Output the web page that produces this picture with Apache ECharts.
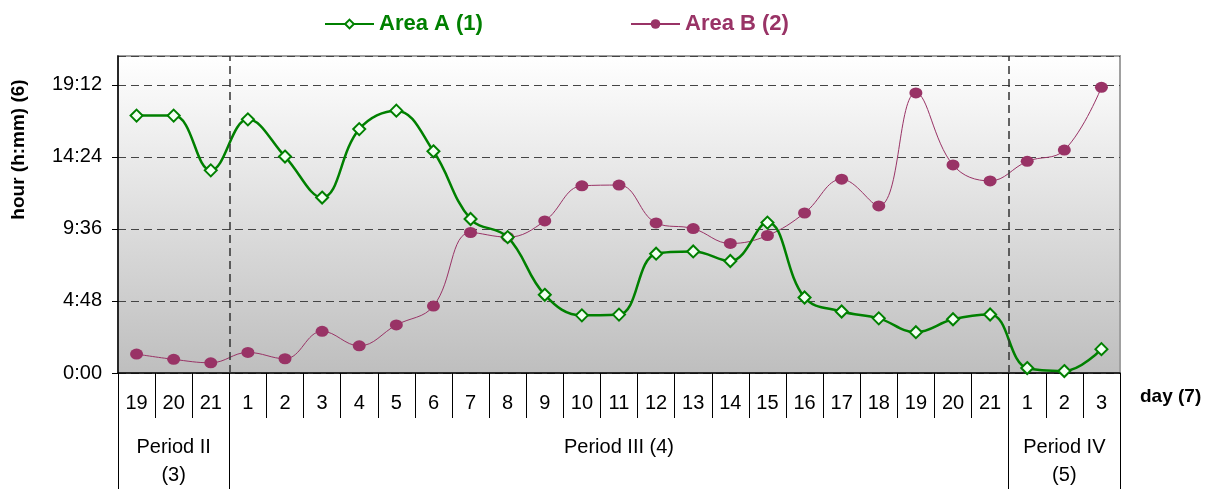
<!DOCTYPE html>
<html>
<head>
<meta charset="utf-8">
<script src="https://cdn.jsdelivr.net/npm/echarts@6/dist/echarts.min.js"></script>
<style>
  html, body { margin: 0; padding: 0; background: #fff; }
  #chart { width: 1216px; height: 489px; }
</style>
</head>
<body>
<div id="chart"></div>
<script>
// day labels along the x axis
var days = ['19', '20', '21', '1', '2', '3', '4', '5', '6', '7', '8', '9', '10',
            '11', '12', '13', '14', '15', '16', '17', '18', '19', '20', '21', '1', '2', '3'];

// second level of the axis: one label in the middle of each period
var periods = ['', 'Period II\n(3)', '', '', '', '', '', '', '', '', '', '', '', 'Period III (4)',
               '', '', '', '', '', '', '', '', '', '', '', 'Period IV\n(5)', ''];
// index of the first day of each period
var periodStarts = [0, 3, 24];

// values in hours (decimal)
var areaA = [17.15, 17.15, 13.5, 16.9, 14.42, 11.69, 16.25, 17.48, 14.77, 10.26, 9.05, 5.21, 3.84,
             3.89, 7.95, 8.1, 7.46, 10.02, 5.03, 4.1, 3.64, 2.72, 3.58, 3.9, 0.33, 0.13, 1.59];
var areaB = [1.26, 0.91, 0.68, 1.37, 0.95, 2.78, 1.81, 3.2, 4.46, 9.36, 9.05, 10.13, 12.47,
             12.52, 10.0, 9.62, 8.63, 9.16, 10.66, 12.91, 11.13, 18.66, 13.86, 12.8, 14.1, 14.85, 19.03];

var font = '"Liberation Sans", Arial, sans-serif';

function hmm(v) {
    var mins = Math.round(v * 60);
    var h = Math.floor(mins / 60);
    var m = mins % 60;
    return h + ':' + (m < 10 ? '0' + m : m);
}

var myChart = echarts.init(document.getElementById('chart'));
var option = {
    animation: false,
    textStyle: { fontFamily: font },
    legend: [
        {
            left: 319, top: 8,
            itemWidth: 49, itemHeight: 11,
            data: [{ name: 'Area A (1)', textStyle: { color: '#008000' } }],
            textStyle: { fontSize: 22, fontWeight: 'bold', fontFamily: font }
        },
        {
            left: 625, top: 8,
            itemWidth: 49, itemHeight: 12,
            data: [{ name: 'Area B (2)', textStyle: { color: '#993366' } }],
            textStyle: { fontSize: 22, fontWeight: 'bold', fontFamily: font }
        }
    ],
    grid: {
        left: 118, right: 96, top: 56, bottom: 114,
        show: true,
        borderColor: '#a0a0a0',
        borderWidth: 2,
        backgroundColor: new echarts.graphic.LinearGradient(0, 0, 0, 1, [
            { offset: 0, color: '#ffffff' },
            { offset: 1, color: '#bebebe' }
        ])
    },
    xAxis: [
        {
            type: 'category',
            data: days,
            position: 'bottom',
            boundaryGap: true,
            axisLine: { lineStyle: { color: '#000', width: 1.5 } },
            axisTick: { show: true, interval: 0, length: 45, lineStyle: { color: '#000' } },
            axisLabel: { interval: 0, fontSize: 20, color: '#000', margin: 20, fontFamily: font },
            splitLine: { show: false },
            name: 'day (7)',
            nameLocation: 'end',
            nameGap: 20,
            nameTextStyle: {
                fontSize: 19, fontWeight: 'bold', color: '#000', fontFamily: font,
                verticalAlign: 'top', padding: [14, 0, 0, 0]
            }
        },
        {
            type: 'category',
            data: periods,
            position: 'bottom',
            boundaryGap: true,
            axisLine: { show: false },
            axisTick: {
                show: true, length: 120, lineStyle: { color: '#000' },
                interval: function (index) { return periodStarts.indexOf(index) >= 0; }
            },
            axisLabel: { interval: 0, fontSize: 20, lineHeight: 28, color: '#000', margin: 60, fontFamily: font },
            splitLine: { show: false }
        },
        {
            // hidden helper axis used to place the period separators on day boundaries
            type: 'value',
            min: 0,
            max: days.length,
            position: 'bottom',
            show: false
        }
    ],
    yAxis: {
        type: 'value',
        min: 0,
        max: 21.12,
        interval: 4.8,
        name: 'hour (h:mm) (6)',
        nameLocation: 'middle',
        nameRotate: 90,
        nameGap: 90,
        nameTextStyle: {
            fontSize: 19, fontWeight: 'bold', color: '#000', fontFamily: font,
            padding: [0, 0, 0, 130]
        },
        axisLine: { show: true, lineStyle: { color: '#000', width: 1.5 } },
        axisTick: { show: true, length: 6, lineStyle: { color: '#000' } },
        axisLabel: { fontSize: 20, color: '#000', margin: 16, showMaxLabel: false, fontFamily: font, formatter: hmm },
        splitLine: { show: true, lineStyle: { type: [8, 5], color: '#444', width: 1 } }
    },
    series: [
        {
            name: 'Area A (1)',
            type: 'line',
            data: areaA,
            smooth: 0.4,
            symbol: 'diamond',
            symbolSize: 12,
            lineStyle: { color: '#008000', width: 2.5 },
            itemStyle: { color: '#f2fff2', borderColor: '#008000', borderWidth: 2 },
            z: 3
        },
        {
            name: 'Area B (2)',
            type: 'line',
            data: areaB,
            smooth: 0.4,
            symbol: 'circle',
            symbolSize: [13, 11],
            lineStyle: { color: '#993366', width: 1 },
            itemStyle: { color: '#993366' },
            z: 2
        },
        {
            type: 'line',
            xAxisIndex: 2,
            data: [],
            silent: true,
            markLine: {
                silent: true,
                symbol: 'none',
                label: { show: false },
                lineStyle: { type: [8, 5], color: '#333', width: 1.5 },
                data: periodStarts.slice(1).map(function (v) { return { xAxis: v }; })
            }
        }
    ]
};
myChart.setOption(option);
</script>
</body>
</html>
